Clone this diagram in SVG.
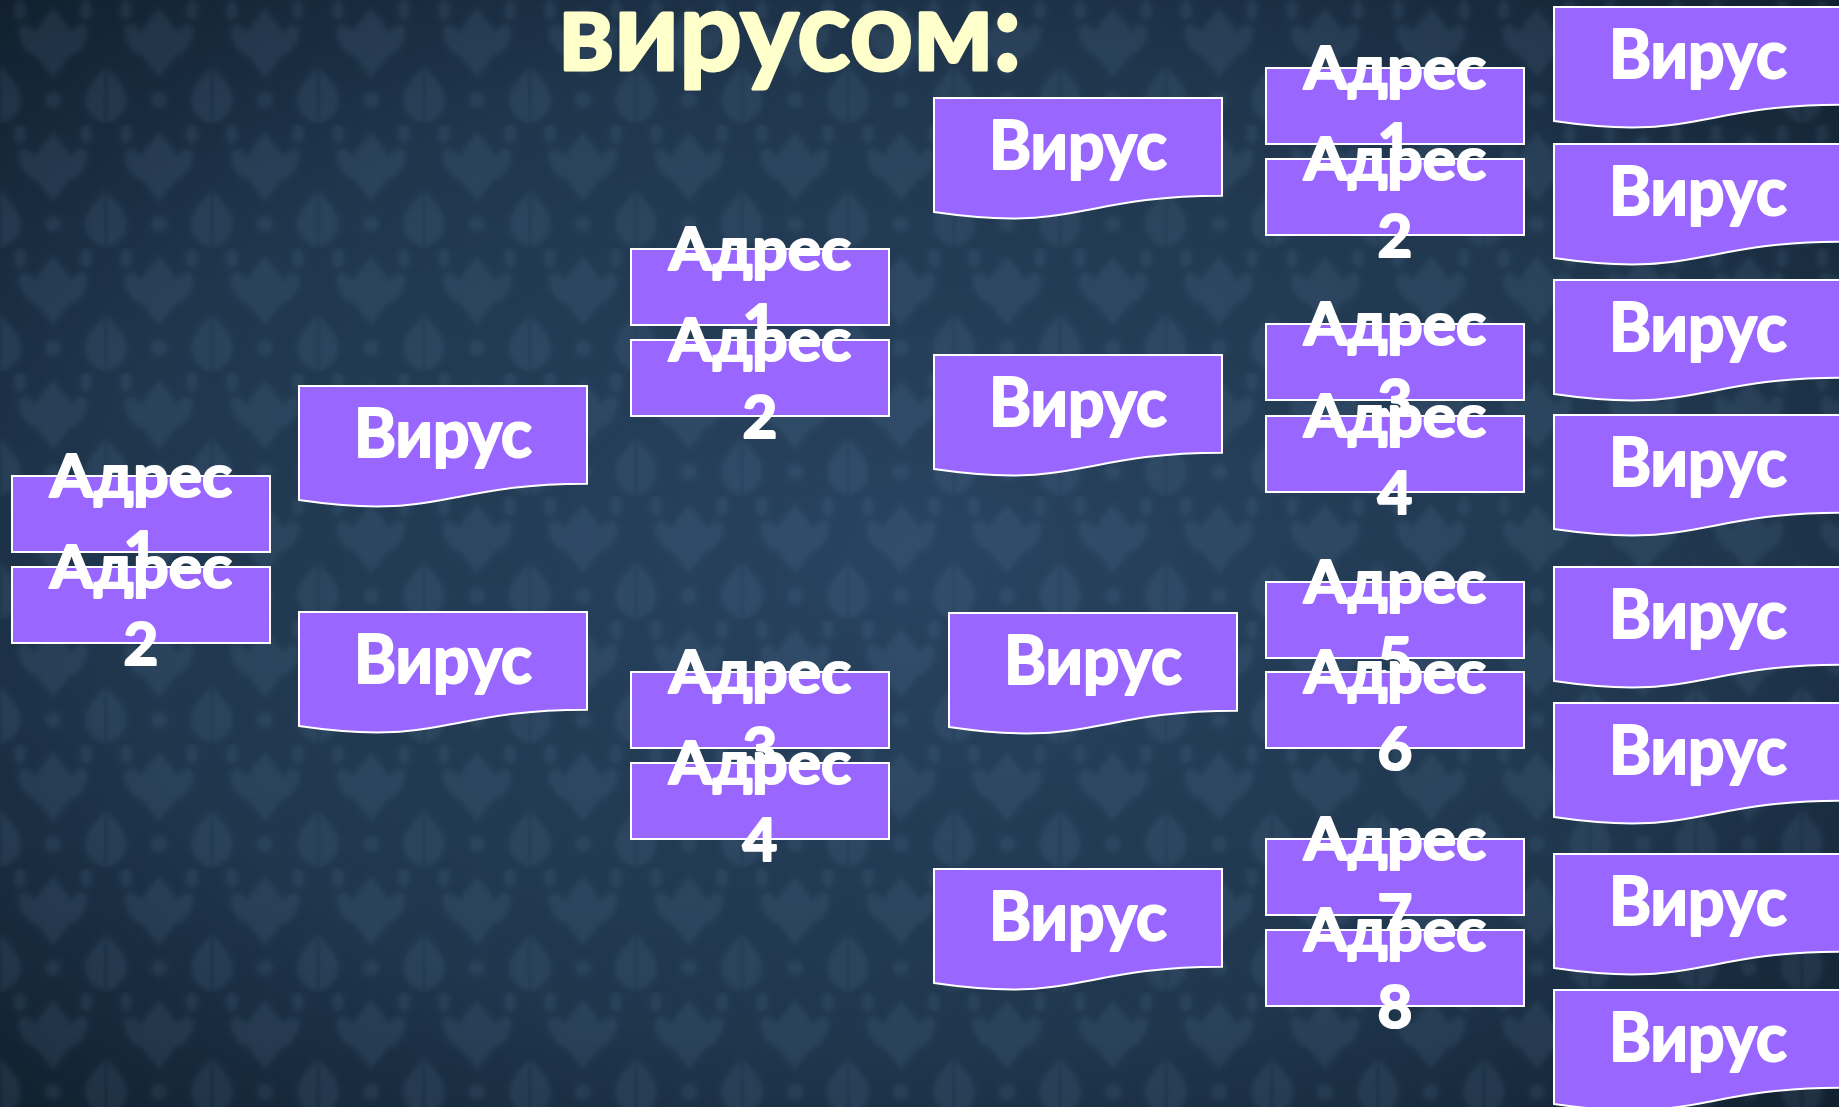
<svg xmlns="http://www.w3.org/2000/svg" xmlns:xlink="http://www.w3.org/1999/xlink" width="1839" height="1107" viewBox="0 0 1839 1107">
<style>
.box{fill:#9966ff;stroke:#ffffff;stroke-width:2}
.t{font-family:Lato,"Liberation Sans",sans-serif;font-weight:bold;fill:#ffffff;stroke:#ffffff;stroke-width:2.2;stroke-linejoin:round;text-anchor:middle}
.v{font-size:67px}
.a{font-size:60px}
.title{font-family:Lato,"Liberation Sans",sans-serif;font-weight:bold;font-size:112px;fill:#ffffcc;stroke:#ffffcc;stroke-width:3;stroke-linejoin:round;text-anchor:middle}
</style>
<defs>
<radialGradient id="bg" cx="50%" cy="50%" r="75%">
<stop offset="0" stop-color="#284360"/>
<stop offset="0.6" stop-color="#1f364d"/>
<stop offset="1" stop-color="#0f1c29"/>
</radialGradient>
<filter id="soft" x="-10%" y="-10%" width="120%" height="120%"><feGaussianBlur stdDeviation="2.5"/></filter>
<pattern id="damask" width="106" height="124" patternUnits="userSpaceOnUse">
<g fill="#6d93b3" opacity="0.13" filter="url(#soft)">
<path d="M53 8 C63 22 75 30 72 48 C70 60 60 66 53 78 C46 66 36 60 34 48 C31 30 43 22 53 8 Z"/>
<ellipse cx="30" cy="40" rx="9" ry="17" transform="rotate(-30 30 40)"/>
<ellipse cx="76" cy="40" rx="9" ry="17" transform="rotate(30 76 40)"/>
<path d="M0 66 C12 80 24 90 20 106 C17 116 8 121 0 124 Z M106 66 C94 80 82 90 86 106 C89 116 98 121 106 124 Z"/>
<circle cx="53" cy="100" r="8"/>
<ellipse cx="20" cy="10" rx="6" ry="10"/>
<ellipse cx="86" cy="10" rx="6" ry="10"/>
</g>
</pattern>
<rect id="addr" width="258" height="76" class="box"/>
<path id="doc" class="box" d="M0 0 H288 V97.8 C144 97.8 144 135.1 0 114 Z"/>
</defs>
<rect width="1839" height="1107" fill="url(#bg)"/>
<rect width="1839" height="1107" fill="url(#damask)"/>

<text class="title" x="790" y="70" textLength="463" lengthAdjust="spacingAndGlyphs">вирусом:</text>

<g id="connectors"/>

<!-- Column 1 -->
<g id="c1-addr1"><use xlink:href="#addr" x="12" y="476"/><text class="t a" x="141" y="497" textLength="182" lengthAdjust="spacingAndGlyphs">Адрес</text><text class="t a" x="141" y="574">1</text></g>
<g id="c1-addr2"><use xlink:href="#addr" x="12" y="567"/><text class="t a" x="141" y="588" textLength="182" lengthAdjust="spacingAndGlyphs">Адрес</text><text class="t a" x="141" y="665">2</text></g>
<g id="c1-vir1"><use xlink:href="#doc" x="299" y="386"/><text class="t v" x="443" y="457" textLength="178" lengthAdjust="spacingAndGlyphs">Вирус</text></g>
<g id="c1-vir2"><use xlink:href="#doc" x="299" y="612"/><text class="t v" x="443" y="683" textLength="178" lengthAdjust="spacingAndGlyphs">Вирус</text></g>

<!-- Column 2 -->
<g id="c2-addr1"><use xlink:href="#addr" x="631" y="249"/><text class="t a" x="760" y="270" textLength="182" lengthAdjust="spacingAndGlyphs">Адрес</text><text class="t a" x="760" y="347">1</text></g>
<g id="c2-addr2"><use xlink:href="#addr" x="631" y="340"/><text class="t a" x="760" y="361" textLength="182" lengthAdjust="spacingAndGlyphs">Адрес</text><text class="t a" x="760" y="438">2</text></g>
<g id="c2-addr3"><use xlink:href="#addr" x="631" y="672"/><text class="t a" x="760" y="693" textLength="182" lengthAdjust="spacingAndGlyphs">Адрес</text><text class="t a" x="760" y="770">3</text></g>
<g id="c2-addr4"><use xlink:href="#addr" x="631" y="763"/><text class="t a" x="760" y="784" textLength="182" lengthAdjust="spacingAndGlyphs">Адрес</text><text class="t a" x="760" y="861">4</text></g>

<!-- Column 3 -->
<g id="c3-vir1"><use xlink:href="#doc" x="934" y="98"/><text class="t v" x="1078" y="169" textLength="178" lengthAdjust="spacingAndGlyphs">Вирус</text></g>
<g id="c3-vir2"><use xlink:href="#doc" x="934" y="355"/><text class="t v" x="1078" y="426" textLength="178" lengthAdjust="spacingAndGlyphs">Вирус</text></g>
<g id="c3-vir3"><use xlink:href="#doc" x="949" y="613"/><text class="t v" x="1093" y="684" textLength="178" lengthAdjust="spacingAndGlyphs">Вирус</text></g>
<g id="c3-vir4"><use xlink:href="#doc" x="934" y="869"/><text class="t v" x="1078" y="940" textLength="178" lengthAdjust="spacingAndGlyphs">Вирус</text></g>

<!-- Column 4 -->
<g id="c4-addr1"><use xlink:href="#addr" x="1266" y="68"/><text class="t a" x="1395" y="89" textLength="182" lengthAdjust="spacingAndGlyphs">Адрес</text><text class="t a" x="1395" y="166">1</text></g>
<g id="c4-addr2"><use xlink:href="#addr" x="1266" y="159"/><text class="t a" x="1395" y="180" textLength="182" lengthAdjust="spacingAndGlyphs">Адрес</text><text class="t a" x="1395" y="257">2</text></g>
<g id="c4-addr3"><use xlink:href="#addr" x="1266" y="324"/><text class="t a" x="1395" y="345" textLength="182" lengthAdjust="spacingAndGlyphs">Адрес</text><text class="t a" x="1395" y="422">3</text></g>
<g id="c4-addr4"><use xlink:href="#addr" x="1266" y="416"/><text class="t a" x="1395" y="437" textLength="182" lengthAdjust="spacingAndGlyphs">Адрес</text><text class="t a" x="1395" y="514">4</text></g>
<g id="c4-addr5"><use xlink:href="#addr" x="1266" y="582"/><text class="t a" x="1395" y="603" textLength="182" lengthAdjust="spacingAndGlyphs">Адрес</text><text class="t a" x="1395" y="680">5</text></g>
<g id="c4-addr6"><use xlink:href="#addr" x="1266" y="672"/><text class="t a" x="1395" y="693" textLength="182" lengthAdjust="spacingAndGlyphs">Адрес</text><text class="t a" x="1395" y="770">6</text></g>
<g id="c4-addr7"><use xlink:href="#addr" x="1266" y="839"/><text class="t a" x="1395" y="860" textLength="182" lengthAdjust="spacingAndGlyphs">Адрес</text><text class="t a" x="1395" y="937">7</text></g>
<g id="c4-addr8"><use xlink:href="#addr" x="1266" y="930"/><text class="t a" x="1395" y="951" textLength="182" lengthAdjust="spacingAndGlyphs">Адрес</text><text class="t a" x="1395" y="1028">8</text></g>

<!-- Column 5 -->
<g id="c5-vir1"><use xlink:href="#doc" x="1554" y="7"/><text class="t v" x="1698" y="78" textLength="178" lengthAdjust="spacingAndGlyphs">Вирус</text></g>
<g id="c5-vir2"><use xlink:href="#doc" x="1554" y="144"/><text class="t v" x="1698" y="215" textLength="178" lengthAdjust="spacingAndGlyphs">Вирус</text></g>
<g id="c5-vir3"><use xlink:href="#doc" x="1554" y="280"/><text class="t v" x="1698" y="351" textLength="178" lengthAdjust="spacingAndGlyphs">Вирус</text></g>
<g id="c5-vir4"><use xlink:href="#doc" x="1554" y="415"/><text class="t v" x="1698" y="486" textLength="178" lengthAdjust="spacingAndGlyphs">Вирус</text></g>
<g id="c5-vir5"><use xlink:href="#doc" x="1554" y="567"/><text class="t v" x="1698" y="638" textLength="178" lengthAdjust="spacingAndGlyphs">Вирус</text></g>
<g id="c5-vir6"><use xlink:href="#doc" x="1554" y="703"/><text class="t v" x="1698" y="774" textLength="178" lengthAdjust="spacingAndGlyphs">Вирус</text></g>
<g id="c5-vir7"><use xlink:href="#doc" x="1554" y="854"/><text class="t v" x="1698" y="925" textLength="178" lengthAdjust="spacingAndGlyphs">Вирус</text></g>
<g id="c5-vir8"><use xlink:href="#doc" x="1554" y="990"/><text class="t v" x="1698" y="1061" textLength="178" lengthAdjust="spacingAndGlyphs">Вирус</text></g>
</svg>
